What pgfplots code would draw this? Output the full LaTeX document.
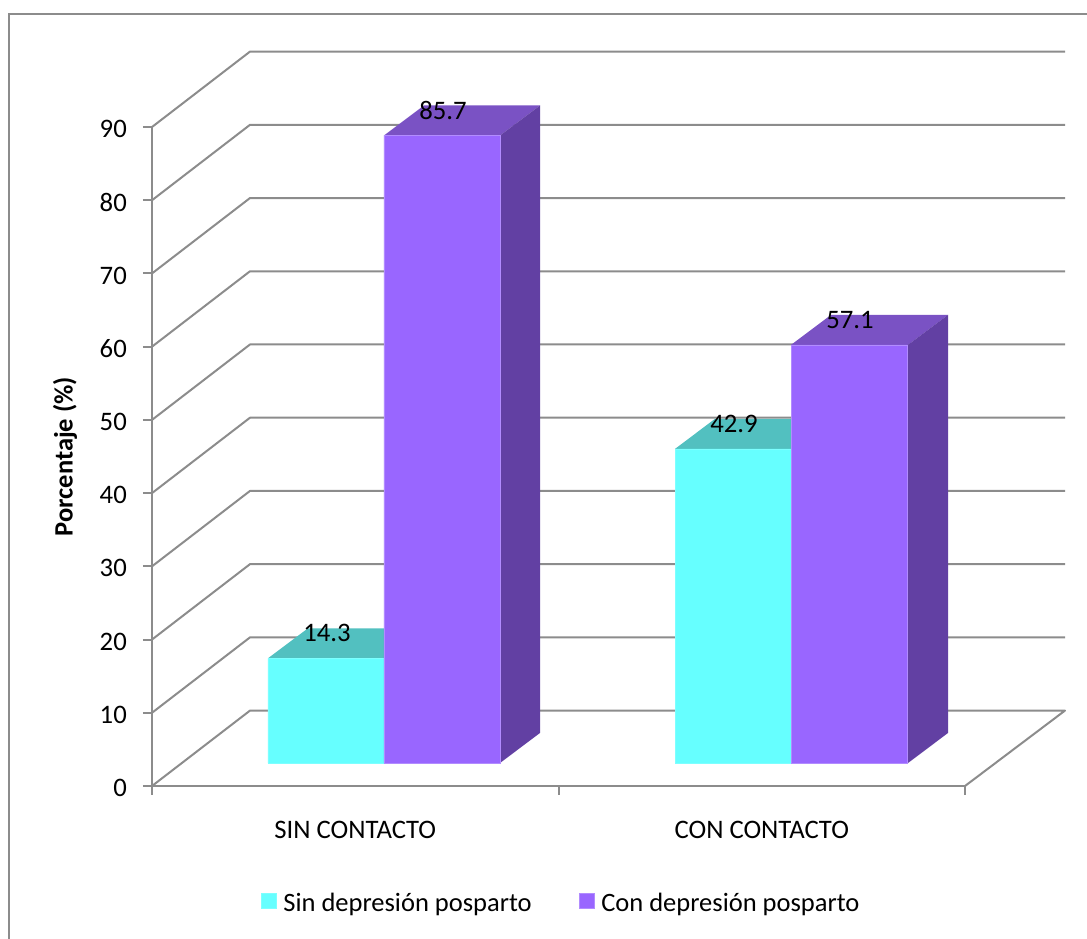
\documentclass[border=0pt]{standalone}
\usepackage{pgfplots}
\pgfplotsset{compat=1.18}
\usepackage{pgfplotstable}
\usepackage{fontspec}
\setmainfont{Carlito}
\definecolor{gridgray}{HTML}{8C8C8C}
\definecolor{cyanfront}{HTML}{66FFFF}
\definecolor{cyantop}{HTML}{52C0C0}
\definecolor{violetfront}{HTML}{9966FF}
\definecolor{violettop}{HTML}{7A52C4}
\definecolor{violetside}{HTML}{6240A3}

% Percentages per group; x is the centre of each pair of bars on the floor plane
\pgfplotstableread{
x      sin   con
0.5707 14.3  85.7
1.5720 42.9  57.1
}\bardata

\begin{document}
\begin{tikzpicture}[x=1pt,y=1pt]
\path[use as bounding box] (0,0) rectangle (1087,938);
\draw[gridgray,line width=2pt] (9,-2) -- (9,924) -- (1089,924);
\begin{axis}[
  at={(152pt,152pt)}, anchor=origin,
  scale only axis, width=813pt, height=659pt,
  xmin=0, xmax=2, ymin=0, ymax=90,
  clip=false,
  axis x line*=bottom, axis y line*=left,
  axis line style={gridgray,line width=2pt,-},
  every tick/.style={gridgray,line width=2pt},
  tick align=outside, major tick length=9pt,
  xtick={0,1,2}, xticklabels={},
  extra x ticks={0.5,1.5},
  extra x tick labels={SIN CONTACTO,CON CONTACTO},
  extra x tick style={major tick length=0pt,
    xticklabel style={anchor=center,yshift=-43.5pt}},
  ytick={0,10,...,90},
  tick label style={font=\fontsize{26.7}{30}\selectfont,text=black},
  yticklabel style={anchor=east,inner sep=0pt,xshift=-16pt,yshift=-2pt},
  /pgf/number format/assume math mode=true,
  ylabel={\textbf{Porcentaje (\%)}},
  ylabel style={at={(axis description cs:-0.107,0.5)},anchor=center,
    font=\fontsize{26.5}{30}\selectfont},
  legend columns=2,
  legend style={at={(axis description cs:0.502,-0.178)},anchor=center,draw=none,fill=none,
    font=\fontsize{26.5}{30}\selectfont,
    nodes={inner sep=0pt},
    /tikz/every even column/.append style={column sep=47pt},
    /tikz/every odd column/.append style={column sep=7pt}},
  legend cell align=left,
  wall/.style={gridgray,line width=2pt,forget plot,line join=round},
  top/.style={draw=none,forget plot},
  % the bars carry yshift=23pt, which the legend image inherits and gives back here
  swatch/.style={legend image code/.code={\fill[##1] (0pt,-28pt) rectangle (15pt,-13pt);}},
  barlabel/.style={nodes near coords,
    every node near coord/.append style={font=\fontsize{26.7}{30}\selectfont,text=black,
      anchor=center,yshift=25pt,xshift=#1}},
]
% Floor outline and the gridlines running over the side and back walls
\addplot[wall] coordinates {(0,0) (0.2411,10.3) (2.2460,10.3) (2,0)};
\addplot[wall] coordinates {(0,10) (0.2411,20.3) (2.2460,20.3)};
\addplot[wall] coordinates {(0,20) (0.2411,30.3) (2.2460,30.3)};
\addplot[wall] coordinates {(0,30) (0.2411,40.3) (2.2460,40.3)};
\addplot[wall] coordinates {(0,40) (0.2411,50.3) (2.2460,50.3)};
\addplot[wall] coordinates {(0,50) (0.2411,60.3) (2.2460,60.3)};
\addplot[wall] coordinates {(0,60) (0.2411,70.3) (2.2460,70.3)};
\addplot[wall] coordinates {(0,70) (0.2411,80.3) (2.2460,80.3)};
\addplot[wall] coordinates {(0,80) (0.2411,90.3) (2.2460,90.3)};
\addplot[wall] coordinates {(0,90) (0.2411,100.3) (2.2460,100.3)};

% Top faces of the cyan bars; the bars stand a little way up the floor (yshift=23pt)
\addplot[top,fill=cyantop,yshift=23pt] coordinates
  {(0.2854,14.3) (0.5707,14.3) (0.6691,18.4) (0.3838,18.4)} -- cycle;
\addplot[top,fill=cyantop,yshift=23pt] coordinates
  {(1.2866,42.9) (1.5720,42.9) (1.6704,47.0) (1.3850,47.0)} -- cycle;

% Top and right faces of the violet bars
\addplot[top,fill=violettop,yshift=23pt] coordinates
  {(0.5707,85.7) (0.8561,85.7) (0.9545,89.8) (0.6691,89.8)} -- cycle;
\addplot[top,fill=violetside,yshift=23pt] coordinates
  {(0.8561,0) (0.8561,85.7) (0.9545,89.8) (0.9545,4.1)} -- cycle;
\addplot[top,fill=violettop,yshift=23pt] coordinates
  {(1.5720,57.1) (1.8598,57.1) (1.9582,61.2) (1.6704,61.2)} -- cycle;
\addplot[top,fill=violetside,yshift=23pt] coordinates
  {(1.8598,0) (1.8598,57.1) (1.9582,61.2) (1.9582,4.1)} -- cycle;

% Front faces, with the value printed on the top face of each bar
\addplot[ybar,bar width=116pt,bar shift=-58pt,yshift=23pt,
  draw=cyanfront!85!white,line width=0.6pt,fill=cyanfront,
  swatch,barlabel=-57pt]
  table[x=x,y=sin] {\bardata};
\addlegendentry{Sin depresión posparto}
\addplot[ybar,bar width=116pt,bar shift=58pt,yshift=23pt,
  draw=violetfront!75!white,line width=0.6pt,fill=violetfront,
  swatch,barlabel=59pt]
  table[x=x,y=con] {\bardata};
\addlegendentry{Con depresión posparto}
\end{axis}
\end{tikzpicture}
\end{document}
